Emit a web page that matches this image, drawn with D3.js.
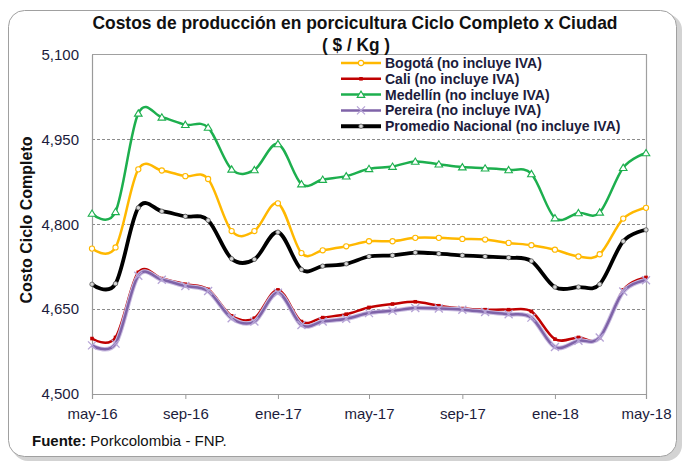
<!DOCTYPE html>
<html>
<head>
<meta charset="utf-8">
<script src="https://cdn.jsdelivr.net/npm/d3@7"></script>
<style>
  body { margin: 0; background: #fff; }
  svg text { font-family: "Liberation Sans", Arial, sans-serif; }
</style>
</head>
<body>
<div id="chart"></div>
<script>
/* Data */
const months = ["2016-05","2016-06","2016-07","2016-08","2016-09","2016-10","2016-11","2016-12",
  "2017-01","2017-02","2017-03","2017-04","2017-05","2017-06","2017-07","2017-08","2017-09",
  "2017-10","2017-11","2017-12","2018-01","2018-02","2018-03","2018-04","2018-05"];
const bogota   = [4757,4759,4897,4895,4885,4880,4788,4788,4837,4749,4754,4761,4770,4770,4776,4776,4774,4773,4767,4763,4755,4743,4747,4810,4829];
const cali     = [4598,4600,4715,4704,4694,4685,4638,4634,4684,4628,4635,4641,4653,4659,4663,4656,4651,4649,4649,4646,4597,4600,4599,4684,4706];
const medellin = [4819,4822,4996,4989,4976,4971,4897,4896,4942,4871,4879,4885,4898,4902,4911,4906,4901,4899,4896,4889,4811,4820,4821,4900,4926];
const pereira  = [4586,4589,4709,4702,4691,4682,4634,4628,4679,4622,4628,4633,4643,4647,4652,4651,4649,4645,4641,4635,4583,4594,4600,4681,4701];
const promedio = [4694,4695,4829,4823,4814,4807,4739,4738,4786,4720,4726,4730,4743,4745,4750,4748,4745,4743,4741,4735,4689,4689,4694,4770,4790];
const yTicks = [4500, 4650, 4800, 4950, 5100];
const mesesEs = ["ene","feb","mar","abr","may","jun","jul","ago","sep","oct","nov","dic"];

const series = [
  { name: "Bogotá (no incluye IVA)", values: bogota, color: "#FFB800", width: 2.5, marker: "circle" },
  { name: "Cali (no incluye IVA)", values: cali, color: "#C00000", width: 2.5, marker: "square" },
  { name: "Medellín (no incluye IVA)", values: medellin, color: "#1DAF4E", width: 2.5, marker: "triangle" },
  { name: "Pereira (no incluye IVA)", values: pereira, color: "#7F63A8", width: 2.5, marker: "x" },
  { name: "Promedio Nacional (no incluye IVA)", values: promedio, color: "#000000", width: 3.8, marker: "dot" }
];

const parse = d3.timeParse("%Y-%m");
const dates = months.map(parse);

const width = 686, height = 464;
const svg = d3.select("#chart").append("svg")
  .attr("width", width)
  .attr("height", height);

/* Frame with shadow */
svg.append("rect")
  .attr("x", 12).attr("y", 14).attr("width", 670).attr("height", 447)
  .attr("rx", 16).attr("fill", "#c8c8c8").attr("opacity", 0.8);
svg.append("rect")
  .attr("x", 8.5).attr("y", 10.5).attr("width", 668).attr("height", 446)
  .attr("rx", 16).attr("fill", "#fff").attr("stroke", "#a0a0a0").attr("stroke-width", 1);

const x = d3.scaleTime()
  .domain([dates[0], dates[dates.length - 1]])
  .range([92, 646]);

const y = d3.scaleLinear()
  .domain([4500, 5100])
  .range([394, 54.5]);

/* Grid lines */
svg.append("g")
  .selectAll("line")
  .data(yTicks.filter(t => t > 4500 && t < 5100))
  .enter()
  .append("line")
  .attr("x1", 92).attr("x2", 646)
  .attr("y1", d => Math.round(y(d)) + 0.5)
  .attr("y2", d => Math.round(y(d)) + 0.5)
  .attr("stroke", "#8c8c8c")
  .attr("stroke-dasharray", "3,2");

/* Plot border (top and right) */
svg.append("path")
  .attr("d", `M92,${y(5100)}H646.5V394`)
  .attr("fill", "none")
  .attr("stroke", "#a0a0a0")
  .attr("stroke-width", 1.2);

/* Axes */
const xAxis = d3.axisBottom(x)
  .ticks(d3.timeMonth.every(4))
  .tickSize(5)
  .tickPadding(6)
  .tickFormat(d => mesesEs[d.getMonth()] + "-" + d3.timeFormat("%y")(d));

const gx = svg.append("g")
  .attr("transform", "translate(0,394)")
  .call(xAxis);
gx.select(".domain").attr("stroke", "#9a9a9a").attr("stroke-width", 1.2);
gx.selectAll(".tick line").attr("stroke", "#9a9a9a");
gx.selectAll("text").attr("font-size", "15px").attr("fill", "#1c1c3c").attr("dy", "0.9em");

const yAxis = d3.axisLeft(y)
  .tickValues(yTicks)
  .tickSize(0)
  .tickPadding(13)
  .tickFormat(d3.format(","));

const gy = svg.append("g")
  .attr("transform", "translate(92,0)")
  .call(yAxis);
gy.select(".domain").attr("stroke", "#9a9a9a").attr("stroke-width", 1.2);
gy.selectAll("text").attr("font-size", "15px").attr("fill", "#1c1c3c");

/* Titles (narrow bold look) */
svg.append("text")
  .attr("x", 355).attr("y", 29)
  .attr("text-anchor", "middle")
  .attr("font-weight", "bold")
  .attr("font-size", "19px")
  .attr("textLength", 525)
  .attr("lengthAdjust", "spacingAndGlyphs")
  .attr("fill", "#111")
  .text("Costos de producción  en porcicultura Ciclo Completo x Ciudad");

svg.append("text")
  .attr("x", 356).attr("y", 51)
  .attr("text-anchor", "middle")
  .attr("font-weight", "bold")
  .attr("font-size", "19px")
  .attr("textLength", 68)
  .attr("lengthAdjust", "spacingAndGlyphs")
  .attr("fill", "#111")
  .text("( $ / Kg )");

svg.append("text")
  .attr("transform", "translate(32,220) rotate(-90)")
  .attr("text-anchor", "middle")
  .attr("font-weight", "bold")
  .attr("font-size", "16px")
  .attr("fill", "#111")
  .text("Costo Ciclo  Completo");

const src = svg.append("text")
  .attr("x", 32).attr("y", 446)
  .attr("font-size", "15px")
  .attr("fill", "#111");
src.append("tspan").attr("font-weight", "bold").text("Fuente:");
src.append("tspan").text(" Porkcolombia - FNP.");

/* Lines */
const line = d3.line()
  .x((d, i) => x(dates[i]))
  .y(d => y(d))
  .curve(d3.curveCardinal.tension(0));

function drawMarker(g, type, color, cx, cy) {
  if (type === "circle") {
    g.append("circle").attr("cx", cx).attr("cy", cy).attr("r", 2.6)
      .attr("fill", "#fff").attr("stroke", color).attr("stroke-width", 1.1);
  } else if (type === "square") {
    g.append("rect").attr("x", cx - 1.8).attr("y", cy - 1.8).attr("width", 3.6).attr("height", 3.6)
      .attr("fill", color);
  } else if (type === "triangle") {
    g.append("path")
      .attr("d", `M${cx},${cy - 3.5}L${cx + 3.8},${cy + 2.8}L${cx - 3.8},${cy + 2.8}Z`)
      .attr("fill", "#fff").attr("stroke", color).attr("stroke-width", 1.1);
  } else if (type === "x") {
    g.append("path")
      .attr("d", `M${cx - 4},${cy - 4}L${cx + 4},${cy + 4}M${cx - 4},${cy + 4}L${cx + 4},${cy - 4}`)
      .attr("stroke", "#b6a4d6").attr("stroke-width", 1.3);
  } else if (type === "dot") {
    g.append("circle").attr("cx", cx).attr("cy", cy).attr("r", 2.2)
      .attr("fill", "#d8d8d8").attr("stroke", "#555").attr("stroke-width", 0.8);
  }
}

series.forEach(s => {
  const g = svg.append("g");
  if (s.marker === "x") {
    g.append("path")
      .datum(s.values)
      .attr("fill", "none")
      .attr("stroke", "#c9bce0")
      .attr("stroke-width", 4.5)
      .attr("d", line);
  }
  g.append("path")
    .datum(s.values)
    .attr("fill", "none")
    .attr("stroke", s.color)
    .attr("stroke-width", s.width)
    .attr("stroke-linejoin", "round")
    .attr("d", line);
  s.values.forEach((v, i) => drawMarker(g, s.marker, s.color, x(dates[i]), y(v)));
});

/* Legend */
const legend = svg.append("g").attr("transform", "translate(341,63)");
series.forEach((s, i) => {
  const g = legend.append("g").attr("transform", `translate(0,${i * 15.8})`);
  g.append("line")
    .attr("x1", 0).attr("x2", 40)
    .attr("stroke", s.color)
    .attr("stroke-width", s.marker === "dot" ? 4 : 2.5);
  drawMarker(g, s.marker, s.color, 20, 0);
  g.append("text")
    .attr("x", 44).attr("y", 5)
    .attr("font-size", "14px")
    .attr("font-weight", "bold")
    .attr("fill", "#1c1c3c")
    .text(s.name);
});
</script>
</body>
</html>
